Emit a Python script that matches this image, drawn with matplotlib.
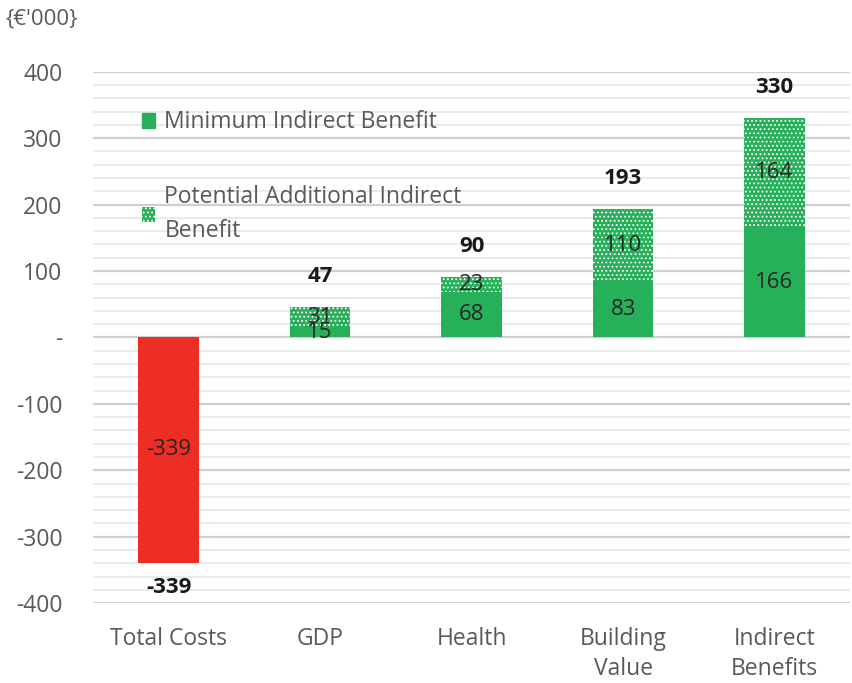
import matplotlib
matplotlib.use('Agg')
from matplotlib import pyplot as plt
from matplotlib.ticker import MultipleLocator, FuncFormatter
from matplotlib.patches import Patch

plt.rcParams['font.family'] = ['Open Sans', 'DejaVu Sans']
plt.rcParams['hatch.color'] = 'white'
plt.rcParams['hatch.linewidth'] = 0.8

categories = ['Total Costs', 'GDP', 'Health', 'Building\nValue', 'Indirect\nBenefits']
costs = [-339, 0, 0, 0, 0]
min_benefit = [0, 15, 68, 83, 166]
add_benefit = [0, 31, 23, 110, 164]
totals = [-339, 47, 90, 193, 330]

GREEN = '#27b05a'
RED = '#ee2e24'
GREY = '#595959'

fig = plt.figure(figsize=(8.52, 6.83), dpi=100)
ax = fig.add_axes([0.109, 0.117, 0.889, 0.778])

x = range(len(categories))
w = 0.4
ax.bar(x, costs, w, color=RED, zorder=3)
ax.bar(x, min_benefit, w, color=GREEN, zorder=3)
ax.bar(x, add_benefit, w, bottom=min_benefit, color=GREEN, hatch='....',
       edgecolor='white', linewidth=0, zorder=3)

# inner labels
for i in x:
  if costs[i] != 0:
    ax.text(i, costs[i]/2, f'{costs[i]}', ha='center', va='center',
            fontsize=16, color='#262626', zorder=4)
  if min_benefit[i] != 0:
    ax.text(i, min_benefit[i]/2, f'{min_benefit[i]}', ha='center', va='center',
            fontsize=16, color='#262626', zorder=4)
  if add_benefit[i] != 0:
    ax.text(i, min_benefit[i]+add_benefit[i]/2, f'{add_benefit[i]}', ha='center',
            va='center', fontsize=16, color='#262626', zorder=4)

# totals
for i in x:
  tops = min_benefit[i]+add_benefit[i] if totals[i] > 0 else costs[i]
  off = 22 if totals[i] > 0 else -18
  ax.annotate(f'{totals[i]}', xy=(i, tops), xytext=(0, off), textcoords='offset points',
              ha='center', va='center', fontsize=16, fontweight='bold', color='#1a1a1a')

ax.set_ylim(-400, 400)
ax.set_xlim(-0.5, 4.5)
ax.yaxis.set_major_locator(MultipleLocator(100))
ax.yaxis.set_minor_locator(MultipleLocator(20))
ax.yaxis.set_major_formatter(FuncFormatter(lambda v, p: '-' if v == 0 else f'{int(v)}'))
ax.grid(axis='y', which='major', color='#d0d0d0', linewidth=1.6, zorder=0)
ax.grid(axis='y', which='minor', color='#e8e8e8', linewidth=1.2, zorder=0)
ax.tick_params(axis='y', which='both', length=0, labelsize=16.5, labelcolor=GREY, pad=22)
ax.tick_params(axis='x', length=0, labelsize=16.5, labelcolor=GREY, pad=17)
ax.set_xticks(list(x))
ax.set_xticklabels(categories)
for t in ax.get_xticklabels():
  t.set_linespacing(1.35)
  t.set_va('top')
for s in ax.spines.values():
  s.set_visible(False)

fig.text(0.006, 0.972, "{€'000}", fontsize=16, color=GREY, ha='left', va='center')

handles = [Patch(facecolor=GREEN, edgecolor=GREEN),
           Patch(facecolor=GREEN, hatch='....', edgecolor='white', linewidth=0)]
labels = ['Minimum Indirect Benefit', 'Potential Additional Indirect\nBenefit']
leg = ax.legend(handles, labels, loc='upper left', bbox_to_anchor=(0.037, 0.966),
                frameon=False, fontsize=16.5, labelcolor=GREY, handlelength=0.6,
                handleheight=0.6, handletextpad=0.4, labelspacing=2.2)
leg.get_texts()[1].set_linespacing(1.55)

fig.savefig('out.png', dpi=100)
